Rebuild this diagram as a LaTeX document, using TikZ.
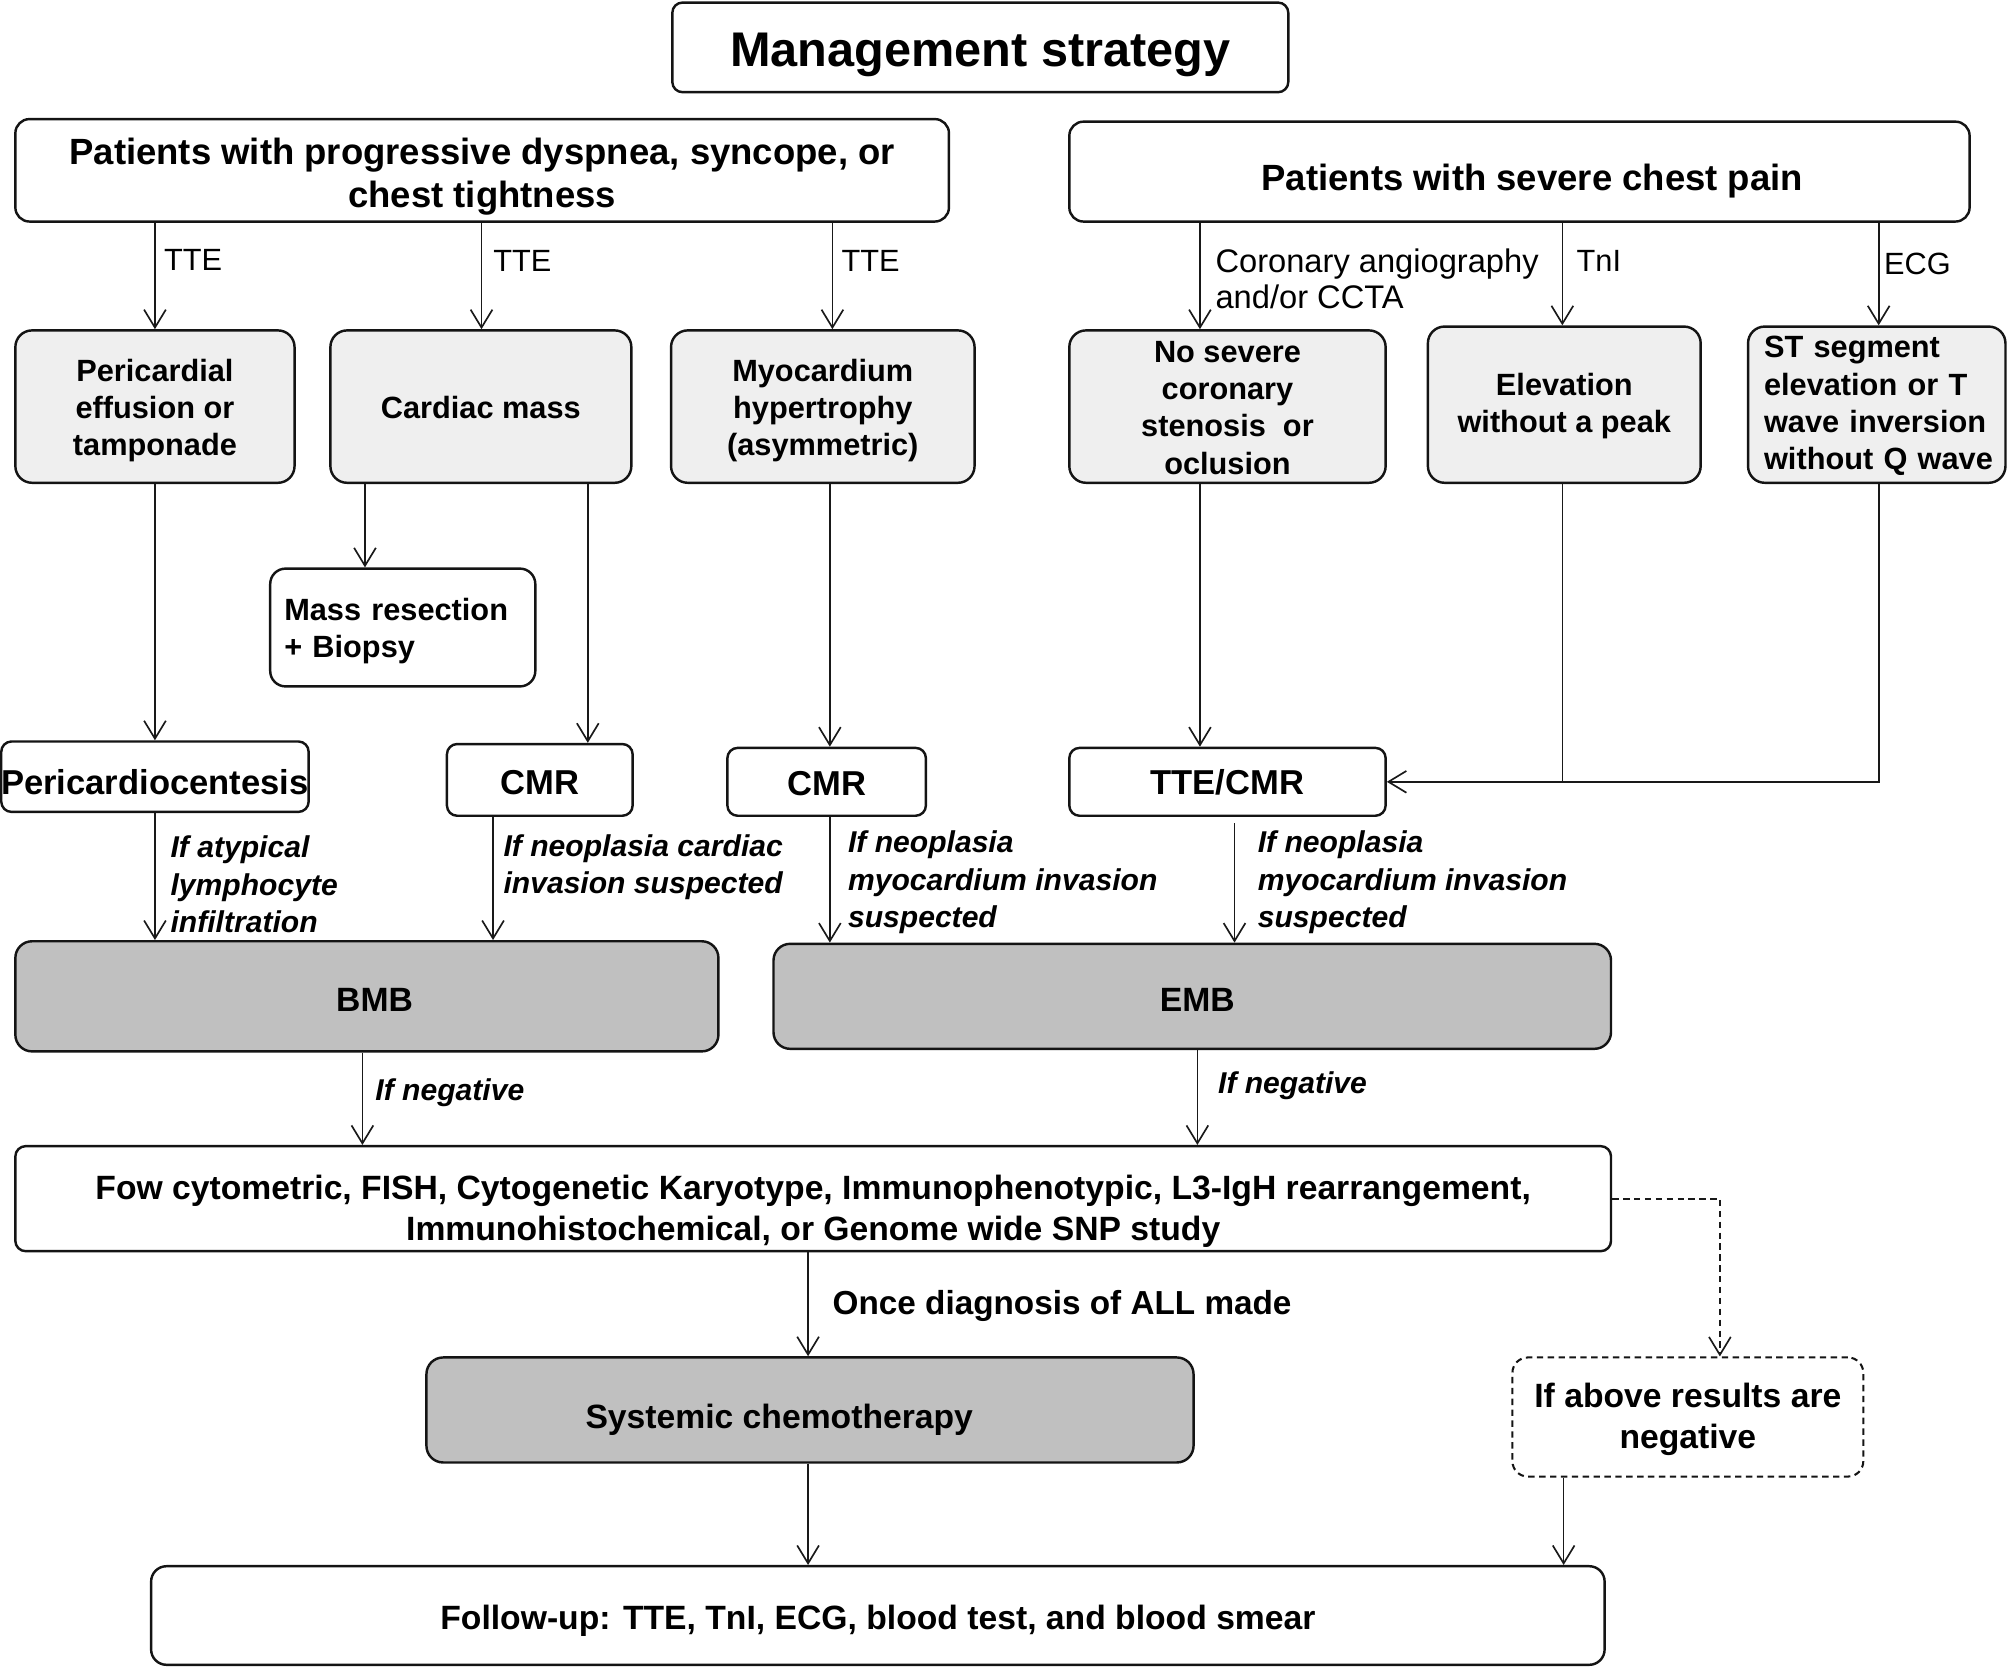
\documentclass[tikz,border=0pt]{standalone}
\usepackage{fontspec}
\setmainfont{Liberation Sans}
\usetikzlibrary{arrows.meta}
\definecolor{lgray}{HTML}{EFEFEF}
\definecolor{dgray}{HTML}{C0C0C0}
% #1 box options, #2 text options, #3 name, #4 cx, #5 cy, #6 width, #7 height, #8 text offset, #9 text
\newcommand\flowbox[9]{%
  \node[shp, #1, minimum width=#6pt, minimum height=#7pt] (#3) at (#4,#5) {};
  \node[txt, #2] (#3-t) at (#4,{#5+#8}) {#9};}
\begin{document}
\begin{tikzpicture}[x=1pt,y=-1pt,
  shp/.style={draw=black!92, line width=1.9pt, rounded corners=8pt, fill=white, inner sep=0pt},
  txt/.style={inner sep=0pt, align=center, font=\bfseries\fontsize{27}{32}\selectfont},
  lb/.style={fill=lgray, rounded corners=13pt},
  db/.style={fill=dgray, rounded corners=13pt},
  ft24/.style={font=\bfseries\fontsize{24}{29}\selectfont},
  ft26/.style={font=\bfseries\fontsize{26.3}{32}\selectfont},
  ln/.style={line width=1.3pt, draw=black!90},
  arr/.style={ln, -{Straight Barb[length=14pt,width=17pt,line width=1.3pt]}},
  darr/.style={arr, line width=1.6pt, dash pattern=on 5pt off 3.5pt},
  elab/.style={inner sep=0pt, anchor=west, align=left, font=\fontsize{24}{28}\selectfont},
  ilab/.style={inner sep=0pt, anchor=west, align=left, font=\bfseries\itshape\fontsize{23.5}{29}\selectfont},
]
\useasboundingbox (0,0) rectangle (1568,1303);

% ---- boxes ----
\flowbox{}{font=\bfseries\fontsize{38}{44}\selectfont}{title}{765.5}{37}{481}{70}{6}{Management strategy}
\flowbox{rounded corners=11pt}{font=\bfseries\fontsize{28.5}{34}\selectfont}{P1}{376.5}{133}{729}{80}{5}{Patients with progressive dyspnea, syncope, or\\chest tightness}
\flowbox{rounded corners=11pt}{font=\bfseries\fontsize{28.5}{34}\selectfont, xshift=10pt}{P2}{1186.5}{134}{703}{78}{7}{Patients with severe chest pain}

\flowbox{lb}{ft24}{A}{121}{317.5}{218}{119}{3}{Pericardial\\effusion  or\\tamponade}
\flowbox{lb}{ft24}{B}{375.5}{317.5}{235}{119}{1}{Cardiac mass}
\flowbox{lb}{ft24}{C}{642.5}{317.5}{237}{119}{3}{Myocardium\\hypertrophy\\(asymmetric)}
\flowbox{lb}{ft24}{D}{958.5}{317.5}{247}{119}{1}{No severe\\coronary\\stenosis\ \ or\\oclusion}
\flowbox{lb}{ft24}{E}{1221.5}{316}{213}{122}{1}{Elevation\\without a peak}
\flowbox{lb}{ft24, text width=176pt, align=left}{F}{1465.5}{316}{201}{122}{1}{\mbox{ST segment}\\\mbox{elevation or T}\\\mbox{wave inversion}\\\mbox{without Q wave}}

\flowbox{rounded corners=12pt}{ft24, text width=185pt, align=left}{G}{314.5}{490}{207}{92}{3}{\mbox{Mass resection}\\+ Biopsy}

\flowbox{}{}{H}{121}{606.5}{240}{55}{4}{Pericardiocentesis}
\flowbox{}{}{CMR1}{421.5}{609}{145}{56}{2}{CMR}
\flowbox{}{}{CMR2}{645.5}{610.5}{155}{53}{1}{CMR}
\flowbox{}{}{TC}{958.5}{610.5}{247}{53}{0}{TTE/CMR}

\flowbox{db}{ft26, xshift=6pt}{BMB}{286.5}{778}{549}{86}{3}{BMB}
\flowbox{db}{ft26, xshift=4pt}{EMB}{931}{778}{654}{82}{3}{EMB}

\flowbox{}{ft26}{Fow}{635}{936}{1246}{82}{10}{Fow cytometric, FISH, Cytogenetic Karyotype, Immunophenotypic, L3-IgH rearrangement,\\Immunohistochemical, or Genome wide SNP study}

\flowbox{dash pattern=on 5pt off 3.5pt, line width=1.6pt, rounded corners=12pt}{ft26}{Dash}{1318}{1106.5}{274}{93}{2}{If above results are\\negative}
\flowbox{db}{ft26, xshift=-24pt}{Sys}{632.5}{1101}{599}{82}{8}{Systemic chemotherapy}
\flowbox{rounded corners=12pt}{ft26}{Fol}{685.5}{1261.5}{1135}{77}{4}{Follow-up:  TTE, TnI, ECG, blood test, and blood smear}

% ---- x positions of connectors ----
\coordinate (x121) at (121,0);
\coordinate (x376) at (376,0);
\coordinate (x650) at (650,0);
\coordinate (x937) at (937,0);
\coordinate (x1220) at (1220,0);
\coordinate (x1467) at (1467,0);
\coordinate (x285) at (285,0);
\coordinate (x459) at (459,0);
\coordinate (x648) at (648,0);
\coordinate (x385) at (385,0);
\coordinate (x964) at (964,0);
\coordinate (x283) at (283,0);
\coordinate (x935) at (935,0);
\coordinate (x631) at (631,0);
\coordinate (x1343) at (1343,0);
\coordinate (x1221) at (1221,0);

% ---- connectors ----
\draw[arr] (P1.south -| x121) -- (A.north -| x121);
\draw[arr] (P1.south -| x376) -- (B.north -| x376);
\draw[arr] (P1.south -| x650) -- (C.north -| x650);
\draw[arr] (P2.south -| x937) -- (D.north -| x937);
\draw[arr] (P2.south -| x1220) -- (E.north -| x1220);
\draw[arr] (P2.south -| x1467) -- (F.north -| x1467);

\draw[arr] (B.south -| x285) -- (G.north -| x285);
\draw[arr] (B.south -| x459) -- (CMR1.north -| x459);
\draw[arr] (A.south -| x121) -- (H.north -| x121);
\draw[arr] (C.south -| x648) -- (CMR2.north -| x648);
\draw[arr] (D.south -| x937) -- (TC.north -| x937);
\draw[ln] (E.south -| x1220) -- (x1220 |- TC.east);
\draw[arr] (F.south -| x1467) |- (TC.east);

\draw[arr] (H.south -| x121) -- (BMB.north -| x121);
\draw[arr] (CMR1.south -| x385) -- (BMB.north -| x385);
\draw[arr] (CMR2.south -| x648) -- (EMB.north -| x648);
\draw[arr] ([yshift=-5pt]TC.south -| x964) -- (EMB.north -| x964);

\draw[arr] (BMB.south -| x283) -- (Fow.north -| x283);
\draw[arr] (EMB.south -| x935) -- (Fow.north -| x935);
\draw[arr] (Fow.south -| x631) -- (Sys.north -| x631);
\draw[darr] (Fow.east) -- (x1343 |- Fow.east) -- (Dash.north -| x1343);
\draw[arr] (Sys.south -| x631) -- (Fol.north -| x631);
\draw[arr] (Dash.south -| x1221) -- (Fol.north -| x1221);

% ---- connector labels ----
\node[elab] (t1) at (128,203) {TTE};
\node[elab] (t2) at (385,204) {TTE};
\node[elab] (t3) at (657,204) {TTE};
\node[elab, font=\fontsize{25.5}{28}\selectfont] (t4) at (949,218) {Coronary  angiography\\and/or CCTA};
\node[elab] (t5) at (1231,204) {TnI};
\node[elab] (t6) at (1471,206) {ECG};

\node[ilab] (i1) at (133,690.5) {If atypical\\lymphocyte\\infiltration};
\node[ilab] (i2) at (393,677) {If neoplasia  cardiac\\invasion suspected};
\node[ilab] (i3) at (662,689) {If neoplasia\\myocardium invasion\\suspected};
\node[ilab] (i4) at (982,689) {If neoplasia\\myocardium invasion\\suspected};
\node[ilab] (i5) at (293,853) {If negative};
\node[ilab] (i6) at (951,848) {If negative};
\node[elab, font=\bfseries\fontsize{26}{30}\selectfont] (o1) at (650,1020) {Once diagnosis of ALL  made};
\end{tikzpicture}
\end{document}
